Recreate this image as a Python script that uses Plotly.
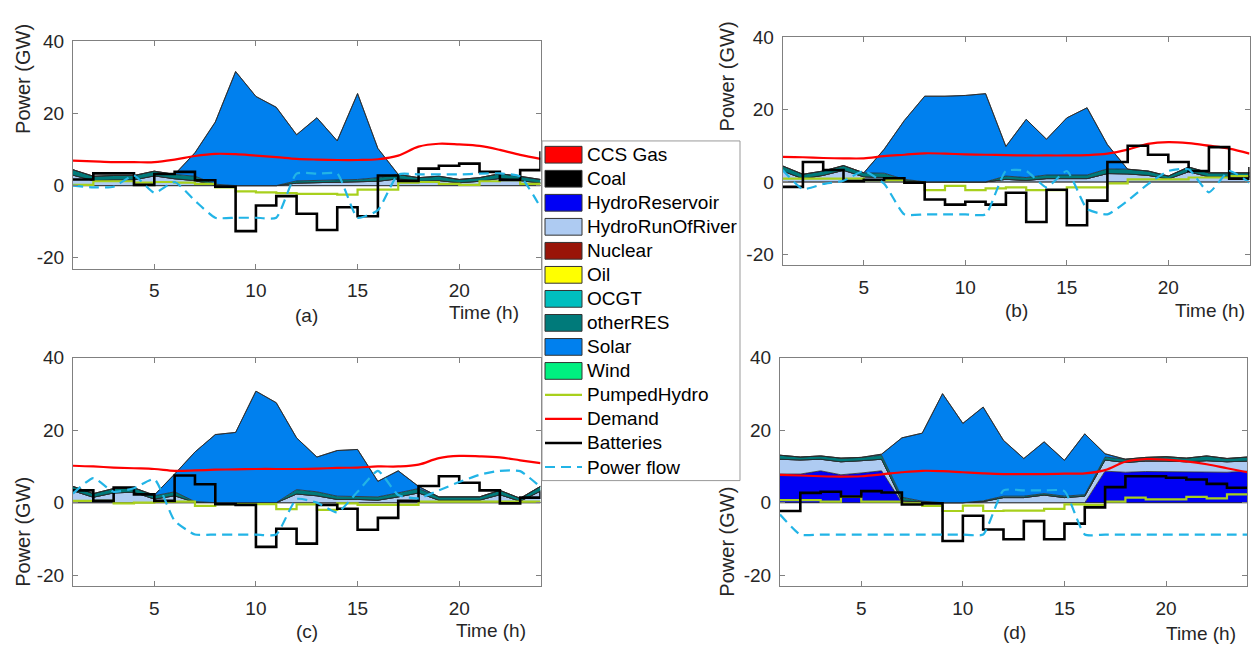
import plotly.graph_objects as go

# ---------------- data ----------------
hours = list(range(1, 25))
x_ticks = [5, 10, 15, 20]
y_ticks = [-20, 0, 20, 40]
y_tick_text = ["-20", "0", "20", "40"]

tech_names = ["CCS Gas", "Coal", "HydroReservoir", "HydroRunOfRiver", "Nuclear",
              "Oil", "OCGT", "otherRES", "Solar", "Wind"]
line_names = ["PumpedHydro", "Demand", "Batteries", "Power flow"]

zeros = [0, 0, 0, 0, 0, 0, 0, 0, 0, 0, 0, 0, 0, 0, 0, 0, 0, 0, 0, 0, 0, 0, 0, 0]

# panel (a)
ror_a = [2.9, 1.4, 1.6, 1.6, 2.7, 1.9, 1.4, 0.1, 0, 0, 0, 0.7, 0.8, 0.9, 0.9, 1.2, 1.9, 1.2, 1.4, 0.8, 1.2, 2.0, 1.4, 0.7]
ores_a = [1.5, 1.2, 1.2, 1.2, 1.3, 1.2, 1.2, 0.3, 0, 0, 0, 0.6, 0.7, 0.8, 0.8, 1.0, 1.2, 1.0, 1.2, 0.9, 1.0, 1.3, 1.2, 1.0]
solar_a = [0, 0, 0, 0, 0, 0, 6.5, 17.2, 31.6, 24.7, 21.7, 12.8, 17.3, 10.7, 23.8, 8.1, 0, 0, 0, 0, 0, 0, 0, 0]
pumped_a = [0.2, 1.2, 1.2, 0.8, 1.0, 0.8, 0.5, -0.5, -1.6, -1.9, -2.1, -2.3, -2.3, -2.5, -1.1, -1.1, 0.8, 1.0, 0.5, 0.2, 1.2, 1.5, 0.5, 0.5]
demand_a = [6.9, 6.7, 6.5, 6.5, 6.5, 7.2, 8.2, 8.8, 8.7, 8.3, 7.9, 7.4, 7.2, 7.1, 7.1, 7.3, 8.3, 10.8, 11.6, 11.4, 11.0, 9.9, 8.5, 7.4]
batteries_a = [1.7, 3.4, 3.4, 0.2, 3.2, 3.8, 1.5, -0.3, -12.6, -5.5, -2.9, -7.8, -12.3, -6.0, -8.5, 2.8, 1.3, 4.7, 5.5, 6.1, 3.8, 1.6, 4.3, 9.5]
flow_a = [0, -0.5, -0.3, 2.8, -2.0, 1.0, -4.2, -8.9, -8.9, -8.9, -8.9, 3.3, 3.3, 3.3, -8.9, -6.8, 3.1, 3.1, 3.1, 3.1, 3.3, 3.4, 2.5, -6.0]

# panel (b)
ror_b = [3.0, 0.9, 1.8, 3.2, 1.4, 1.2, 0.3, 0, 0, 0, 0, 0.7, 0.4, 0.9, 0.9, 0.9, 2.3, 2.2, 1.8, 0.8, 2.8, 1.4, 1.4, 1.4]
ores_b = [1.4, 1.2, 1.2, 1.3, 1.1, 1.2, 0.4, 0, 0, 0, 0, 0.9, 0.8, 1.0, 1.0, 1.0, 1.3, 1.3, 1.2, 0.8, 1.3, 1.1, 1.1, 1.1]
solar_b = [0, 0, 0, 0, 0, 6.6, 16.3, 23.7, 23.7, 23.9, 24.4, 8.2, 16.1, 9.9, 15.8, 18.6, 6.7, 0, 0, 0, 0, 0, 0, 0]
pumped_b = [0.9, 0.9, 0.9, 0.9, 0.5, 0.5, -0.3, -2.3, -1.1, -2.3, -1.8, -1.5, -2.3, -2.3, -1.5, -1.5, -0.4, 0.7, 0.7, 0.7, 1.2, 1.2, 1.6, 1.6]
demand_b = [6.9, 6.8, 6.6, 6.5, 6.5, 7.1, 7.5, 7.9, 7.8, 7.6, 7.5, 7.4, 7.3, 7.3, 7.3, 7.4, 7.8, 8.9, 10.5, 11.0, 10.7, 10.0, 9.2, 7.8]
batteries_b = [-1.4, 5.5, 3.3, 0.2, 0.6, 1.0, -0.2, -4.9, -6.3, -5.5, -6.3, -3.0, -11.1, -2.2, -12.0, -5.2, 5.5, 10.0, 7.5, 5.5, 3.0, 9.6, 0.9, 4.1]
flow_b = [3.3, -2.0, -0.6, 0.3, 3.0, -0.5, -9.0, -9.0, -9.0, -9.0, -9.0, 3.0, 3.0, -1.5, 3.0, -7.5, -9.0, -5.2, -0.6, 3.0, 3.5, -2.9, 3.0, -0.2]

# panel (c)
ror_c = [3.3, 1.5, 2.7, 2.9, 1.0, 1.9, 0.1, 0, 0, 0, 0, 2.4, 1.9, 0.9, 0.9, 0.7, 1.6, 2.7, 0.7, 0.7, 0.7, 2.2, 0.4, 3.2]
ores_c = [1.2, 1.0, 1.2, 1.2, 0.9, 1.1, 0.2, 0, 0, 0, 0, 1.2, 1.1, 0.9, 0.9, 0.9, 1.1, 1.2, 0.9, 0.9, 0.9, 1.2, 0.8, 1.3]
solar_c = [0, 0, 0, 0, 0.2, 4.9, 13.7, 18.8, 19.4, 30.8, 27.6, 14.3, 9.6, 12.6, 12.9, 4.3, 6.1, 0.6, 0, 0, 0, 0, 0, 0]
pumped_c = [0.5, 0.5, -0.2, 0.0, 0.2, 0.3, -0.9, -0.4, -0.4, -0.4, -1.8, -0.5, -2.0, -0.2, -0.6, -0.6, -0.6, 0.3, 0.3, 0.3, 0.3, 0.3, 0.3, 0.3]
demand_c = [10.2, 10.0, 9.7, 9.5, 9.3, 8.8, 8.9, 9.1, 9.2, 9.3, 9.3, 9.3, 9.4, 9.6, 9.7, 10.0, 10.0, 10.5, 12.3, 12.9, 12.8, 12.5, 11.7, 10.9]
batteries_c = [3.4, 0.5, 4.2, 2.3, 0.5, 7.5, 5.1, -0.4, -0.6, -12.2, -7.2, -11.3, -0.6, -1.7, -7.5, -4.2, 0.5, 4.6, 7.3, 5.5, 3.4, -0.2, 1.4, 3.0]
flow_c = [2.5, 6.8, 3.0, 4.0, 6.5, -5.0, -8.8, -8.8, -8.8, -8.8, -8.8, 1.0, 0.0, -2.7, 3.0, 8.8, 2.1, 1.2, 3.4, 5.7, 7.7, 8.8, 8.7, 4.3]

# panel (d)
res_d = [7.9, 7.9, 8.8, 7.7, 8.2, 8.8, 0, 0, 0, 0, 0, 0, 0, 0, 0, 0, 8.7, 8.4, 8.6, 8.6, 8.4, 8.6, 8.4, 8.7]
ror_d = [4.1, 3.9, 3.2, 3.6, 3.4, 3.2, 0.5, 0.2, 0, 0, 0.3, 1.4, 1.4, 2.1, 1.4, 1.8, 3.1, 2.7, 2.9, 2.9, 2.9, 3.0, 2.9, 2.8]
ores_d = [1.1, 0.8, 0.9, 1.0, 0.9, 1.1, 1.0, 0.2, 0, 0, 0.2, 0.4, 0.4, 0.4, 0.4, 0.4, 0.8, 0.9, 1.0, 1.2, 1.0, 1.3, 0.9, 1.1]
solar_d = [0, 0, 0, 0, 0, 0.3, 16.4, 18.8, 30.1, 21.9, 25.9, 15.4, 10.4, 14.3, 9.9, 16.8, 0.9, 0, 0, 0, 0, 0, 0, 0]
pumped_d = [0.7, 0.7, 0.3, 1.6, 0.3, 0.3, -0.2, -0.9, -2.3, -0.8, -2.3, -2.2, -2.2, -1.7, -0.5, -0.6, 0.3, 1.4, 0.9, 0.9, 1.6, 1.2, 2.3, 2.3]
demand_d = [7.7, 7.5, 7.3, 7.2, 7.3, 7.8, 8.4, 8.8, 8.7, 8.4, 8.1, 7.9, 7.9, 7.9, 8.0, 8.1, 9.0, 11.3, 12.0, 11.9, 11.4, 10.6, 9.5, 8.4]
batteries_d = [-2.3, 2.7, 3.0, 1.7, 3.2, 2.8, -0.5, -0.2, -10.6, -3.6, -7.4, -10.1, -5.1, -10.1, -5.8, -1.3, 4.3, 7.3, 7.3, 6.9, 6.4, 5.2, 4.1, 4.1]
flow_d = [-3.3, -8.8, -8.8, -8.8, -8.8, -8.8, -8.8, -8.8, -8.8, -8.8, -8.8, 3.4, 3.4, 3.4, 3.2, -8.8, -8.8, -8.8, -8.8, -8.8, -8.8, -8.8, -8.8, -8.8]

panel_labels = ["(a)", "(b)", "(c)", "(d)"]

# ---------------- styles ----------------
FONT = "Arial, Liberation Sans, Helvetica, sans-serif"
TXT = "#262626"
AXC = "#808080"
tech_colors = ["#ff0000", "#000000", "#0000f5", "#aecbf2", "#991408",
               "#ffff00", "#00bfbf", "#007a7a", "#0080ee", "#00f080"]
line_styles = {
    "PumpedHydro": dict(color="#a8d01c", width=2.2),
    "Demand": dict(color="#ff0000", width=2.2),
    "Batteries": dict(color="#000000", width=2.6),
    "Power flow": dict(color="#22b4e6", width=2.2, dash="10px,6px"),
}

W, H = 1255, 646
# panel geometry in pixels: (x0, x1, ytop, ybottom)
geom = [(73, 540.5, 31.7, 262.7), (782.6, 1249.5, 27.7, 259.0),
        (73, 540.5, 353.3, 585.0), (780, 1247.3, 353.3, 585.0)]

panels = [
    dict(stack=[zeros, zeros, zeros, ror_a, zeros, zeros, zeros, ores_a, solar_a, zeros],
         lines=[pumped_a, demand_a, batteries_a, flow_a]),
    dict(stack=[zeros, zeros, zeros, ror_b, zeros, zeros, zeros, ores_b, solar_b, zeros],
         lines=[pumped_b, demand_b, batteries_b, flow_b]),
    dict(stack=[zeros, zeros, zeros, ror_c, zeros, zeros, zeros, ores_c, solar_c, zeros],
         lines=[pumped_c, demand_c, batteries_c, flow_c]),
    dict(stack=[zeros, zeros, res_d, ror_d, zeros, zeros, zeros, ores_d, solar_d, zeros],
         lines=[pumped_d, demand_d, batteries_d, flow_d]),
]

fig = go.Figure()

for k, p in enumerate(panels):
    xa = "x" if k == 0 else f"x{k + 1}"
    ya = "y" if k == 0 else f"y{k + 1}"
    for name, col, vals in zip(tech_names, tech_colors, p["stack"]):
        fig.add_trace(go.Scatter(
            x=hours, y=vals, name=name, mode="lines", stackgroup=f"s{k}",
            fillcolor=col, line=dict(color="#2a2a2a", width=0.8),
            xaxis=xa, yaxis=ya, showlegend=False, hoverinfo="skip"))
    for name, vals in zip(line_names, p["lines"]):
        st = line_styles[name]
        if name in ("PumpedHydro", "Batteries"):
            shape, smooth = "hv", None
        elif name == "Demand":
            shape, smooth = "spline", 1.0
        else:
            shape, smooth = "spline", 0.5
        ld = dict(st, shape=shape)
        if smooth is not None:
            ld["smoothing"] = smooth
        fig.add_trace(go.Scatter(
            x=hours, y=vals, name=name, mode="lines", line=ld,
            xaxis=xa, yaxis=ya, showlegend=False))

common = dict(showline=True, linecolor=AXC, linewidth=1, mirror="ticks",
              ticks="inside", ticklen=5, tickcolor=AXC, tickwidth=1,
              showgrid=False, zeroline=False,
              tickfont=dict(family=FONT, size=19, color=TXT))

layout = dict(width=W, height=H, margin=dict(l=0, r=0, t=0, b=0),
              paper_bgcolor="white", plot_bgcolor="white", showlegend=False,
              font=dict(family=FONT, size=19, color=TXT))

annotations = []
shapes = []
for k, (x0, x1, yt, yb) in enumerate(geom):
    xs = "xaxis" if k == 0 else f"xaxis{k + 1}"
    ys = "yaxis" if k == 0 else f"yaxis{k + 1}"
    yref = "y" if k == 0 else f"y{k + 1}"
    xref = "x" if k == 0 else f"x{k + 1}"
    layout[xs] = dict(common, domain=[x0 / W, x1 / W], range=[1, 24],
                      tickvals=x_ticks, anchor=yref, ticklabelstandoff=5)
    layout[ys] = dict(common, domain=[1 - yb / H, 1 - yt / H], range=[-23, 40],
                      tickvals=y_ticks, ticktext=y_tick_text, anchor=xref,
                      ticklabelstandoff=4)

# axis titles / captions (pixel positions)
caption_pos = [(306.8, 310), (1016, 305), (306.8, 631.7), (1014, 632)]
time_pos = [(521, 307), (1247, 305), (528, 630), (1237.7, 633)]
power_pos = [(23, 70), (727, 67.5), (23, 530), (727, 540)]
for k in range(4):
    cx, cy = caption_pos[k]
    annotations.append(dict(text=panel_labels[k], x=cx / W, y=1 - cy / H, xref="paper", yref="paper",
                            xanchor="center", yanchor="middle", showarrow=False,
                            font=dict(family=FONT, size=19, color=TXT)))
    tx, ty = time_pos[k]
    annotations.append(dict(text="Time (h)", x=tx / W, y=1 - ty / H, xref="paper", yref="paper",
                            xanchor="right", yanchor="middle", showarrow=False,
                            font=dict(family=FONT, size=19, color=TXT)))
    px, py = power_pos[k]
    annotations.append(dict(text="Power (GW)", x=px / W, y=1 - py / H, xref="paper", yref="paper",
                            xanchor="center", yanchor="middle", textangle=-90, showarrow=False,
                            font=dict(family=FONT, size=20, color=TXT)))

# legend box (drawn manually to mimic MATLAB patches)
lx0, lx1, ly0, ly1 = 542, 740, 133, 478
shapes.append(dict(type="rect", xref="paper", yref="paper", x0=lx0 / W, x1=lx1 / W,
                   y0=1 - ly1 / H, y1=1 - ly0 / H, line=dict(color="#999999", width=1),
                   fillcolor="white", layer="above"))
entries = list(zip(tech_names, tech_colors)) + [(n, None) for n in line_names]
for i, (name, col) in enumerate(entries):
    yc = 147 + 24.4 * i
    if col is not None:
        shapes.append(dict(type="rect", xref="paper", yref="paper",
                           x0=545 / W, x1=582 / W, y0=1 - (yc + 8.5) / H, y1=1 - (yc - 8.5) / H,
                           fillcolor=col, line=dict(color="#333333", width=1), layer="above"))
    else:
        st = line_styles[name]
        shapes.append(dict(type="line", xref="paper", yref="paper",
                           x0=545 / W, x1=582 / W, y0=1 - yc / H, y1=1 - yc / H,
                           line=dict(color=st["color"], width=st["width"],
                                     dash=st.get("dash", "solid")), layer="above"))
    annotations.append(dict(text=name, x=585 / W, y=1 - yc / H, xref="paper", yref="paper",
                            xanchor="left", yanchor="middle", showarrow=False,
                            font=dict(family=FONT, size=19, color="#000000")))

layout["annotations"] = annotations
layout["shapes"] = shapes
fig.update_layout(**layout)
fig.write_html("out.html")
